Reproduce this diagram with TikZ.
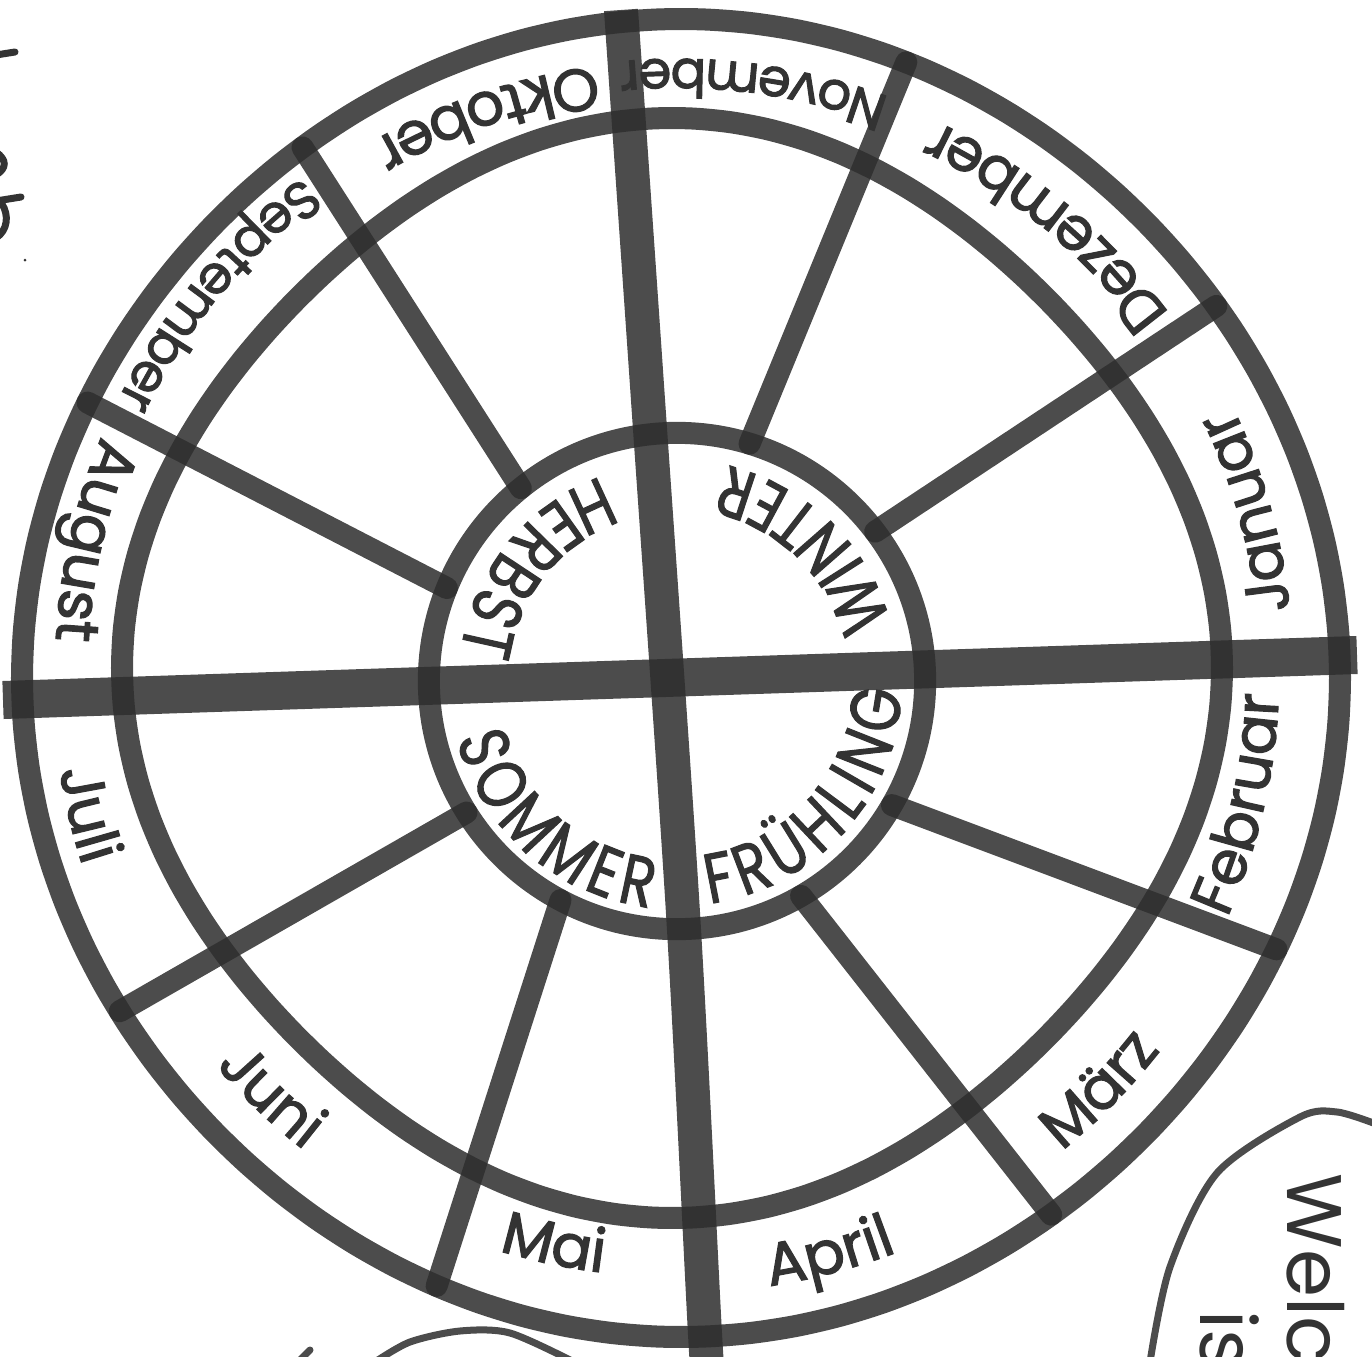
\documentclass[tikz,border=0pt]{standalone}
\usepackage{fontspec}
\usepackage{tikz}
\usetikzlibrary{decorations.text}
\newfontfamily\poppins{Poppins}
\newfontfamily\markerfont{Poppins}[FakeBold=2]
\newfontfamily\seasonfamily{Poppins}[FakeBold=1.5,FakeStretch=0.8]
\definecolor{marker}{gray}{0.18}
\definecolor{ink}{gray}{0.2}
\newcommand{\monthfont}{\markerfont\fontsize{17pt}{20pt}\selectfont}
\newcommand{\smallmonthfont}{\markerfont\fontsize{15pt}{18pt}\selectfont}
\newcommand{\seasonfont}{\seasonfamily\fontsize{20pt}{24pt}\selectfont\kern2pt}
\newcommand{\bubblefont}{\poppins\fontsize{22pt}{26pt}\selectfont}
\tikzset{
  rim/.style={draw=marker,draw opacity=0.86,line width=0.22cm,line join=round},
  spoke/.style={draw=marker,draw opacity=0.86,line width=0.22cm,line cap=round},
  crossbar/.style={draw=marker,draw opacity=0.86,line width=#1},
  bubble/.style={draw=marker,draw opacity=0.86,line width=0.07cm},
  pen/.style={draw=ink,line width=0.07cm,line cap=round},
  monthtext/.style={decorate,decoration={text along path,text align=center,text color=ink,text={|\monthfont|#1}}},
  seasontext/.style={decorate,decoration={text along path,text align=center,text color=ink,text={|\seasonfont|#1}}}
}

\begin{document}
\begin{tikzpicture}[x=0.01cm,y=0.01cm]
\useasboundingbox (0,-1357) rectangle (1372,0);
\coordinate (rimc) at (681,-678);
\coordinate (ringc) at (672,-668);
\coordinate (mid) at (676,-673);
% points on the outer rim
\coordinate (o-novdez) at ([shift={(rimc)}]69.9:655.7);
\coordinate (o-dezjan) at ([shift={(rimc)}]34.8:652);
\coordinate (o-febmar) at ([shift={(rimc)}]-24.5:654.4);
\coordinate (o-maerzapr) at ([shift={(rimc)}]-55.4:652);
\coordinate (o-bottom) at ([shift={(rimc)}]-87.9:659);
\coordinate (o-maijuni) at ([shift={(rimc)}]-111.9:655.2);
\coordinate (o-junijuli) at ([shift={(rimc)}]210.7:652.8);
\coordinate (o-augsep) at ([shift={(rimc)}]155.1:654.3);
\coordinate (o-sepokt) at ([shift={(rimc)}]125.5:651.8);
\coordinate (v-top) at (621,-10);
\coordinate (v-end) at (708,-1360);
\coordinate (h-left) at (3,-700);
\coordinate (h-right) at (1357,-655);
% rings
\begin{scope}[shift={(rimc)}]
  \draw[rim] plot[smooth cycle,domain=0:356,samples=90,variable=\t] (\t:{655+4*cos(4*\t)});
\end{scope}
\begin{scope}[shift={(ringc)}]
  \draw[rim] plot[smooth cycle,domain=0:356,samples=90,variable=\t] (\t:{538+12*cos(4*\t)});
\end{scope}
\node[circle,rim,minimum size=4.96cm,inner sep=0pt,outer sep=0pt] (seasons) at (677,-681) {};
% cross
\draw[crossbar=0.38cm] (h-left) -- (h-right);
\draw[crossbar=0.34cm] plot[smooth] coordinates {(v-top) (648,-400) (683,-913) (o-bottom) (v-end)};
% spokes
\draw[spoke] (seasons.73) -- (o-novdez);
\draw[spoke] (seasons.37) -- (o-dezjan);
\draw[spoke] (seasons.-30) -- (o-febmar);
\draw[spoke] (seasons.-60) -- (o-maerzapr);
\draw[spoke] (seasons.-118) -- (o-maijuni);
\draw[spoke] (seasons.212) -- (o-junijuli);
\draw[spoke] (seasons.158) -- (o-augsep);
\draw[spoke] (seasons.129) -- (o-sepokt);
% months
\path[monthtext=Oktober] (mid) ++(68.7:612) arc[start angle=68.7,end angle=148.7,radius=612];
\path[monthtext={|\smallmonthfont|November}] (mid) ++(42.5:614) arc[start angle=42.5,end angle=122.5,radius=614];
\path[monthtext=Dezember] (mid) ++(10.4:610) arc[start angle=10.4,end angle=90.4,radius=610];
\path[monthtext=Januar] (mid) ++(-24.3:617) arc[start angle=-24.3,end angle=55.7,radius=617];
\path[monthtext=Februar] (mid) ++(-53:603) arc[start angle=-53,end angle=27,radius=603];
\path[monthtext=März] (mid) ++(-84.5:614) arc[start angle=-84.5,end angle=-4.5,radius=614];
\path[monthtext=April] (mid) ++(-115.2:620) arc[start angle=-115.2,end angle=-35.2,radius=620];
\path[monthtext=Mai] (mid) ++(-142:604) arc[start angle=-142,end angle=-62,radius=604];
\path[monthtext=Juni] (mid) ++(-173.7:605) arc[start angle=-173.7,end angle=-93.7,radius=605];
\path[monthtext=Juli] (mid) ++(153.5:624) arc[start angle=153.5,end angle=233.5,radius=624];
\path[monthtext=August] (mid) ++(127.3:621) arc[start angle=127.3,end angle=207.3,radius=621];
\path[monthtext={|\smallmonthfont|September}] (mid) ++(100.5:621) arc[start angle=100.5,end angle=180.5,radius=621];
% seasons
\path[seasontext=HERBST] (seasons.center) ++(70.5:218) arc[start angle=70.5,end angle=210.5,radius=218];
\path[seasontext=WINTER] (seasons.center) ++(-24.6:221) arc[start angle=-24.6,end angle=115.4,radius=221];
\path[seasontext=FRÜHLING] (seasons.center) ++(-113.1:225) arc[start angle=-113.1,end angle=26.9,radius=225];
\path[seasontext=SOMMER] (seasons.center) ++(-201.9:228) arc[start angle=-201.9,end angle=-61.9,radius=228];
% bubbles at the edges
\draw[bubble] plot[smooth] coordinates {(1150,-1362) (1170,-1267) (1217,-1173) (1300,-1117) (1337,-1112) (1376,-1124)};
\node[rotate=-90,anchor=base west,inner sep=0pt,text=ink,font=\bubblefont] (welch) at (1287,-1173) {Welch};
\node[rotate=-90,anchor=base west,inner sep=0pt,text=ink,font=\bubblefont] (ist) at (1200,-1310) {is};
\draw[bubble] plot[smooth] coordinates {(375,-1362) (410,-1342) (460,-1331) (510,-1333) (574,-1362)};
\draw[bubble,line cap=round] (298,-1362) -- (310,-1350);
% cut-off writing on the left
\draw[pen] (-4,-55) -- (15,-52);
\draw[pen] (-4,-152) .. controls (7,-160) and (7,-168) .. (-4,-175);
\draw[pen] (-4,-201) -- (21,-197);
\draw[pen] (2,-204) .. controls (9,-215) and (8,-230) .. (-4,-238);
\fill[ink] (25,-260) circle[radius=1.5];
\end{tikzpicture}
\end{document}
